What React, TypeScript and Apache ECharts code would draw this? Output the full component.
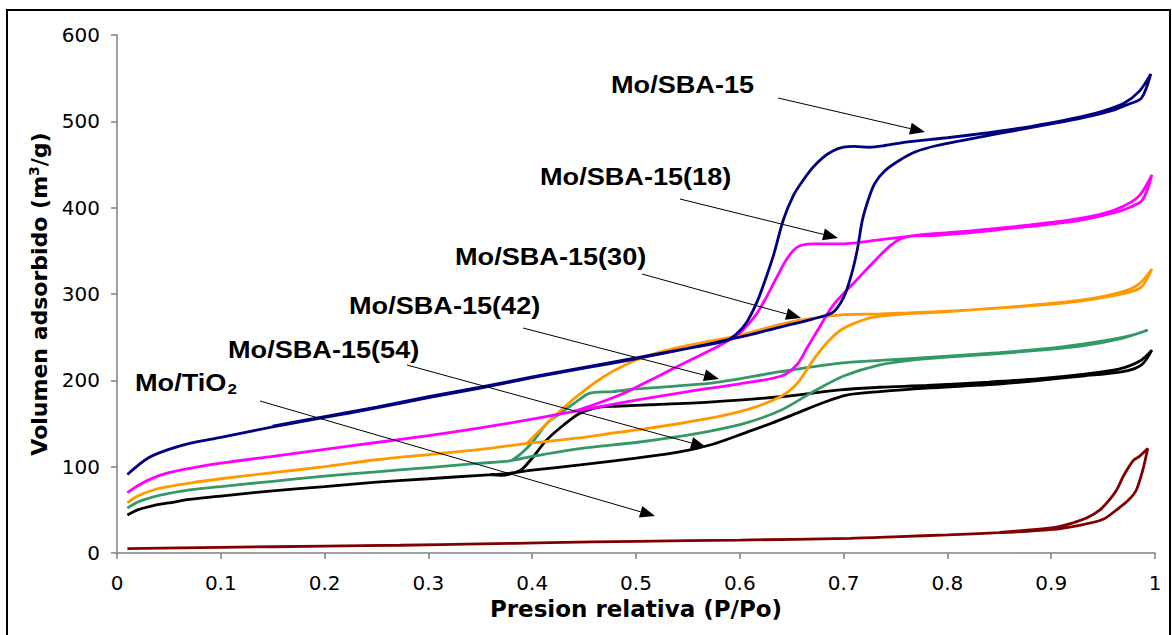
import React, { useEffect, useRef } from "react";
import * as echarts from "echarts";

// ---------- data (P/Po, volume adsorbed m3/g) ----------
// Mo/SBA-15
const sba15AdsP = [0.01, 0.03, 0.05, 0.07, 0.1, 0.15, 0.2, 0.25, 0.3, 0.35, 0.4, 0.45, 0.5, 0.55, 0.6, 0.64, 0.67, 0.69, 0.7, 0.707, 0.713, 0.718, 0.724, 0.73, 0.74, 0.754, 0.77, 0.79, 0.815, 0.85, 0.9, 0.93, 0.96, 0.975, 0.987, 0.996];
const sba15AdsV = [91, 110, 120, 127, 134, 146, 157, 168, 180, 191, 203, 214, 225, 237, 250, 262, 271, 279, 296, 320, 350, 385, 410, 428, 443, 455, 465, 472, 478, 486, 497, 504, 513, 520, 527, 555];
const sba15DesP = [0.996, 0.985, 0.97, 0.95, 0.92, 0.88, 0.84, 0.8, 0.76, 0.74, 0.725, 0.71, 0.7, 0.69, 0.68, 0.67, 0.66, 0.652, 0.642, 0.633, 0.625, 0.617, 0.607, 0.597, 0.587, 0.55, 0.5, 0.45, 0.4, 0.35, 0.3, 0.25, 0.2, 0.15];
const sba15DesV = [555, 535, 521, 512, 503, 494, 487, 481, 476, 472, 470, 471, 470, 466, 458, 446, 430, 415, 386, 347, 318, 292, 268, 254, 246, 237, 226, 215, 204, 192, 181, 169, 158, 147];

// Mo/SBA-15(18)
const sba18AdsP = [0.01, 0.02, 0.035, 0.05, 0.07, 0.1, 0.15, 0.2, 0.25, 0.3, 0.35, 0.4, 0.45, 0.5, 0.55, 0.6, 0.64, 0.655, 0.665, 0.675, 0.69, 0.71, 0.728, 0.745, 0.755, 0.765, 0.79, 0.83, 0.86, 0.9, 0.93, 0.96, 0.975, 0.988, 0.997];
const sba18AdsV = [70, 78, 87, 93, 98, 104, 112, 120, 128, 136, 145, 155, 166, 177, 187, 196, 205, 218, 238, 258, 287, 313, 336, 356, 364, 367, 368, 372, 376, 381, 386, 394, 400, 409, 438];
const sba18DesP = [0.997, 0.985, 0.97, 0.95, 0.92, 0.88, 0.84, 0.8, 0.77, 0.75, 0.73, 0.71, 0.69, 0.67, 0.655, 0.645, 0.635, 0.625, 0.615, 0.6, 0.58, 0.55, 0.52, 0.49, 0.46, 0.44];
const sba18DesV = [438, 414, 402, 393, 386, 380, 375, 371, 368, 365, 362, 359, 358, 358, 354, 340, 318, 295, 275, 255, 240, 222, 204, 186, 172, 164];

// Mo/SBA-15(30)
const sba30AdsP = [0.01, 0.02, 0.035, 0.05, 0.07, 0.1, 0.15, 0.2, 0.25, 0.3, 0.35, 0.395, 0.45, 0.478, 0.51, 0.542, 0.575, 0.607, 0.639, 0.655, 0.671, 0.685, 0.697, 0.71, 0.728, 0.76, 0.793, 0.84, 0.889, 0.93, 0.96, 0.975, 0.987, 0.997];
const sba30AdsV = [58, 66, 73, 77, 81, 86, 93, 100, 108, 114, 120, 127, 134, 139, 144, 150, 157, 166, 181, 196, 224, 245, 258, 266, 273, 277, 279, 283, 287, 292, 298, 302, 308, 329];
const sba30DesP = [0.997, 0.985, 0.97, 0.94, 0.9, 0.85, 0.8, 0.76, 0.735, 0.7, 0.66, 0.63, 0.6, 0.57, 0.54, 0.51, 0.49, 0.47, 0.45, 0.43, 0.41, 0.395];
const sba30DesV = [329, 312, 303, 295, 289, 284, 280, 278, 277, 276, 270, 262, 252, 245, 238, 228, 218, 205, 188, 168, 145, 127];

// Mo/SBA-15(42)
const sba42AdsP = [0.01, 0.02, 0.035, 0.05, 0.07, 0.1, 0.15, 0.2, 0.25, 0.3, 0.35, 0.38, 0.4, 0.446, 0.5, 0.542, 0.575, 0.607, 0.639, 0.671, 0.7, 0.735, 0.77, 0.8, 0.85, 0.889, 0.93, 0.969, 0.993];
const sba42AdsV = [52, 59, 65, 69, 73, 77, 83, 89, 94, 99, 104, 107, 112, 121, 128, 135, 142, 151, 165, 187, 205, 218, 224, 227, 231, 235, 240, 249, 258];
const sba42DesP = [0.993, 0.97, 0.93, 0.889, 0.85, 0.8, 0.735, 0.697, 0.639, 0.574, 0.5, 0.478, 0.46, 0.453, 0.44, 0.425, 0.414, 0.4, 0.39, 0.38];
const sba42DesV = [258, 250, 242, 236, 232, 228, 223, 220, 210, 197, 190, 187, 186, 184, 173, 160, 150, 128, 116, 107];

// Mo/SBA-15(54)
const sba54AdsP = [0.01, 0.02, 0.035, 0.05, 0.07, 0.1, 0.15, 0.2, 0.25, 0.3, 0.35, 0.376, 0.4, 0.446, 0.5, 0.542, 0.574, 0.607, 0.63, 0.655, 0.68, 0.703, 0.735, 0.78, 0.84, 0.889, 0.93, 0.969, 0.987, 0.997];
const sba54AdsV = [44, 50, 55, 58, 62, 66, 72, 77, 82, 86, 90, 92, 96, 102, 110, 117, 126, 140, 150, 162, 174, 183, 187, 191, 195, 200, 205, 210, 218, 235];
const sba54DesP = [0.997, 0.985, 0.965, 0.93, 0.889, 0.84, 0.78, 0.735, 0.697, 0.639, 0.574, 0.52, 0.48, 0.465, 0.446, 0.43, 0.414, 0.4, 0.39, 0.38, 0.37, 0.36];
const sba54DesV = [235, 222, 213, 207, 202, 198, 194, 192, 189, 181, 175, 172, 170, 169, 162, 148, 131, 110, 97, 92, 90, 91];

// Mo/TiO2
const tioAdsP = [0.01, 0.1, 0.2, 0.273, 0.35, 0.417, 0.5, 0.6, 0.706, 0.754, 0.8, 0.85, 0.899, 0.931, 0.95, 0.963, 0.975, 0.982, 0.988, 0.993];
const tioAdsV = [5, 6.5, 8, 9, 10.5, 12, 13.5, 15, 17, 19, 21, 23.5, 27, 33, 39, 50, 62, 73, 95, 121];
const tioDesP = [0.993, 0.985, 0.979, 0.97, 0.963, 0.955, 0.947, 0.935, 0.921, 0.9, 0.85];
const tioDesV = [121, 112, 107, 90, 73, 60, 50, 41, 35, 29, 24];

// tick values
const xTickStep = 0.1;
const yTickStep = 100;

// annotation texts
const labelNames = ["Mo/SBA-15", "Mo/SBA-15(18)", "Mo/SBA-15(30)", "Mo/SBA-15(42)", "Mo/SBA-15(54)", "Mo/TiO2"];

// ---------- layout (pixels) ----------
const labelPos = [
  [611, 85],
  [540, 177],
  [455, 257],
  [349, 306],
  [228, 350],
  [135, 383],
];
const arrowPos = [
  [778, 98, 925, 132],
  [680, 199, 838, 238],
  [642, 274, 801, 318],
  [523, 328, 719, 379],
  [407, 365, 706, 447],
  [260, 401, 655, 516],
];

const zip = (p: number[], v: number[]) => p.map((x, i) => [x, v[i]]);
const loop = (ap: number[], av: number[], dp: number[], dv: number[]) => [...zip(ap, av), ...zip(dp, dv)];

const seriesDefs = [
  { name: "Mo/TiO2", color: "#800000", data: loop(tioAdsP, tioAdsV, tioDesP, tioDesV) },
  { name: "Mo/SBA-15(54)", color: "#000000", data: loop(sba54AdsP, sba54AdsV, sba54DesP, sba54DesV) },
  { name: "Mo/SBA-15(42)", color: "#339966", data: loop(sba42AdsP, sba42AdsV, sba42DesP, sba42DesV) },
  { name: "Mo/SBA-15(30)", color: "#FF9900", data: loop(sba30AdsP, sba30AdsV, sba30DesP, sba30DesV) },
  { name: "Mo/SBA-15(18)", color: "#FF00FF", data: loop(sba18AdsP, sba18AdsV, sba18DesP, sba18DesV) },
  { name: "Mo/SBA-15", color: "#000080", data: loop(sba15AdsP, sba15AdsV, sba15DesP, sba15DesV) },
];

function arrow(x1: number, y1: number, x2: number, y2: number) {
  const len = 15;
  const w = 6;
  const dx = x2 - x1;
  const dy = y2 - y1;
  const d = Math.sqrt(dx * dx + dy * dy);
  const ux = dx / d;
  const uy = dy / d;
  const bx = x2 - ux * len;
  const by = y2 - uy * len;
  return [
    { type: "line", shape: { x1, y1, x2: bx, y2: by }, style: { stroke: "#000", lineWidth: 1 }, z: 10 },
    {
      type: "polygon",
      shape: { points: [[x2, y2], [bx - uy * w, by + ux * w], [bx + uy * w, by - ux * w]] },
      style: { fill: "#000" },
      z: 10,
    },
  ];
}

const boldFont = "'Liberation Sans', Arial, sans-serif";

export default function App() {
  const ref = useRef<HTMLDivElement>(null);
  useEffect(() => {
    if (!ref.current) return;
    const chart = echarts.init(ref.current, undefined, { renderer: "svg" });

    const graphics: any[] = [
      {
        type: "rect",
        shape: { x: 7, y: 10, width: 1163, height: 640 },
        style: { fill: "none", stroke: "#000", lineWidth: 2 },
        silent: true,
      },
    ];
    arrowPos.forEach((a) => graphics.push(...arrow(a[0], a[1], a[2], a[3])));
    labelNames.forEach((t, i) => {
      const isTi = t === "Mo/TiO2";
      graphics.push({
        type: "text",
        x: labelPos[i][0],
        y: labelPos[i][1],
        scaleX: 1.13,
        z: 11,
        style: isTi
          ? {
              text: "{a|Mo/TiO}{b|2}",
              fill: "#000",
              align: "left",
              verticalAlign: "middle",
              rich: {
                a: { fontFamily: boldFont, fontWeight: "bold", fontSize: 24, fill: "#000" },
                b: { fontFamily: boldFont, fontWeight: "bold", fontSize: 15, fill: "#000", padding: [12, 0, 0, 1] },
              },
            }
          : {
              text: t,
              fill: "#000",
              fontFamily: boldFont,
              fontWeight: "bold",
              fontSize: 24,
              align: "left",
              verticalAlign: "middle",
            },
      });
    });

    chart.setOption({
      animation: false,
      backgroundColor: "#fff",
      grid: { left: 117, top: 35, right: 17, bottom: 82, containLabel: false },
      xAxis: {
        type: "value",
        min: 0,
        max: 1,
        interval: xTickStep,
        name: "Presion relativa (P/Po)",
        nameLocation: "middle",
        nameGap: 44,
        nameTextStyle: { fontFamily: "'DejaVu Sans', sans-serif", fontWeight: "bold", fontSize: 23, color: "#000" },
        axisLine: { show: true, onZero: false, lineStyle: { color: "#808080", width: 1.5 } },
        axisTick: { show: true, inside: false, length: 6, lineStyle: { color: "#808080", width: 1.5 } },
        axisLabel: { fontFamily: "'DejaVu Sans', sans-serif", fontSize: 20, color: "#000", margin: 20 },
        splitLine: { show: false },
      },
      yAxis: {
        type: "value",
        min: 0,
        max: 600,
        interval: yTickStep,
        name: "{a|Volumen adsorbido (m}{b|3}{a|/g)}",
        nameLocation: "middle",
        nameGap: 63,
        nameRotate: 90,
        nameTextStyle: {
          rich: {
            a: { fontFamily: "'DejaVu Sans', sans-serif", fontWeight: "bold", fontSize: 22, color: "#000" },
            b: { fontFamily: "'DejaVu Sans', sans-serif", fontWeight: "bold", fontSize: 14, color: "#000", padding: [0, 0, 12, 0] },
          },
        },
        axisLine: { show: true, onZero: false, lineStyle: { color: "#808080", width: 1.5 } },
        axisTick: { show: true, inside: false, length: 6, lineStyle: { color: "#808080", width: 1.5 } },
        axisLabel: { fontFamily: "'DejaVu Sans', sans-serif", fontSize: 20, color: "#000", margin: 17 },
        splitLine: { show: false },
      },
      series: seriesDefs.map((s) => ({
        name: s.name,
        type: "line",
        data: s.data,
        showSymbol: false,
        symbol: "none",
        smooth: 0.3,
        lineStyle: { color: s.color, width: 2.8 },
        itemStyle: { color: s.color },
        silent: true,
      })),
      graphic: graphics,
    });
    return () => chart.dispose();
  }, []);
  return <div ref={ref} style={{ position: "absolute", left: 0, top: 0, width: 1172, height: 635 }} />;
}
